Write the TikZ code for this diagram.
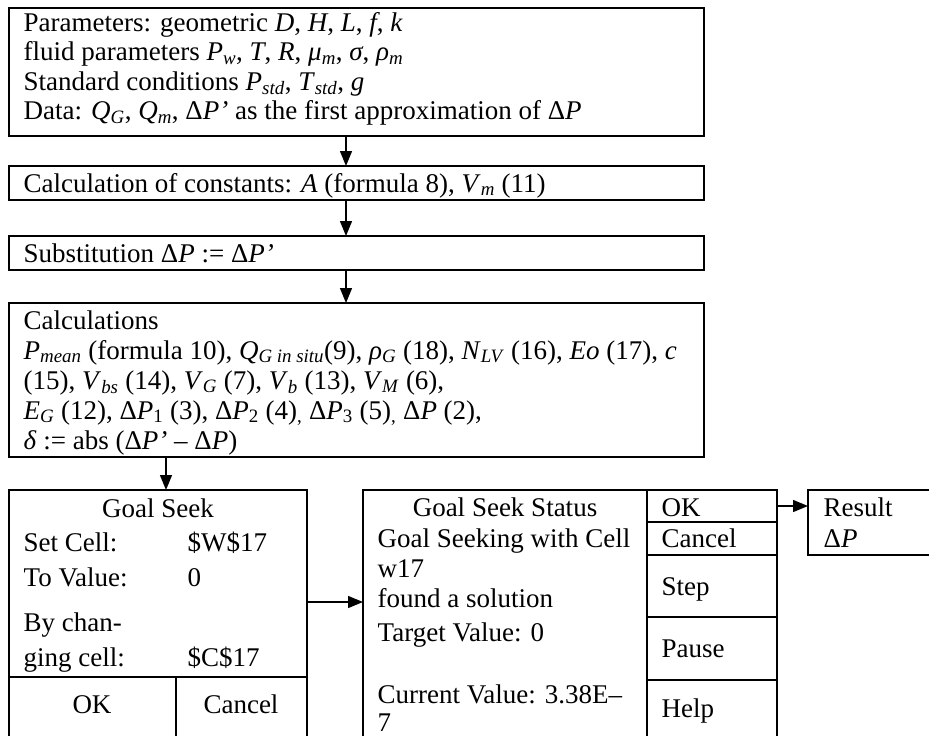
\documentclass[tikz,border=0pt]{standalone}
\usepackage{fontspec}
\setmainfont{Liberation Serif}
\usetikzlibrary{arrows.meta}
\newcommand\iv[2]{\textit{#1}\textsubscript{\textit{#2}}}
\newcommand\dP{Δ\textit{P}}
\newcommand\fs{\fontsize{27pt}{30pt}\selectfont}
\begin{document}
\begin{tikzpicture}[x=1pt,y=-1pt, line width=1.4pt,
  box/.style={draw, rectangle, inner sep=0pt, outer sep=0pt, anchor=north west},
  txt/.style={anchor=base west, inner sep=0pt, font=\fs},
  ctr/.style={anchor=base, inner sep=0pt, font=\fs},
  arr/.style={-{Triangle[length=15pt,width=12pt]}, line width=1.4pt}]
\useasboundingbox (0,0) rectangle (929,736);
% top chain boxes
\node[box, minimum width=695pt, minimum height=128pt] (b1) at (9,8) {};
\node[box, minimum width=695pt, minimum height=34pt] (b2) at (9,166) {};
\node[box, minimum width=695pt, minimum height=34pt] (b3) at (9,236) {};
\node[box, minimum width=695pt, minimum height=154pt] (b4) at (9,303) {};
\coordinate (ax) at (346,0);
\draw[arr] (b1.south -| ax) -- (b2.north -| ax);
\draw[arr] (b2.south -| ax) -- (b3.north -| ax);
\draw[arr] (b3.south -| ax) -- (b4.north -| ax);
% texts of the chain boxes
\node[txt] (t11) at (23,31) {Parameters: geometric \textit{D}, \textit{H}, \textit{L}, \textit{f}, \textit{k}};
\node[txt] (t12) at (23,60.5) {fluid parameters \iv{P}{w}, \textit{T}, \textit{R}, \iv{μ}{m}, \textit{σ}, \iv{ρ}{m}};
\node[txt] (t13) at (23,90) {Standard conditions \iv{P}{std}, \iv{T}{std}, \textit{g}};
\node[txt] (t14) at (23,119.5) {Data: \iv{Q}{G}, \iv{Q}{m}, Δ\textit{P’} as the first approximation of \dP};
\node[txt] (t21) at (23,192) {Calculation of constants: \textit{A} (formula 8), \iv{V}{m} (11)};
\node[txt] (t31) at (23,262) {Substitution \dP{} := Δ\textit{P’}};
\node[txt] (t41) at (23,329) {Calculations};
\node[txt] (t42) at (23,359) {\iv{P}{mean} (formula 10), \iv{Q}{G in situ}(9), \iv{ρ}{G} (18), \iv{N}{LV} (16), \textit{Eo} (17), \textit{c}};
\node[txt] (t43) at (23,389) {(15), \iv{V}{bs} (14), \iv{V}{G} (7), \iv{V}{b} (13), \iv{V}{M} (6),};
\node[txt] (t44) at (23,419) {\iv{E}{G} (12), \dP\textsubscript{1} (3), \dP\textsubscript{2} (4)\textsubscript{,} \dP\textsubscript{3} (5)\textsubscript{,} \dP{} (2),};
\node[txt] (t45) at (23,449) {\textit{δ} := abs (Δ\textit{P’} – \dP)};
% Goal Seek dialog
\node[box, minimum width=298pt, minimum height=250pt] (gs) at (9,490) {};
\coordinate (gsd) at (9,677);
\coordinate (gsv) at (176,0);
\coordinate (bx) at (166,0);
\draw (gsd) -- (gsd -| gs.east);
\draw (gsd -| gsv) -- (gs.south -| gsv);
\draw[arr] (b4.south -| bx) -- (gs.north -| bx);
\node[ctr] (g1) at (158,517) {Goal Seek};
\node[txt] (g2) at (23,551) {Set Cell:};
\node[txt] (g3) at (187,551) {\$W\$17};
\node[txt] (g4) at (23,586) {To Value:};
\node[txt] (g5) at (187,586) {0};
\node[txt] (g6) at (23,631) {By chan-};
\node[txt] (g7) at (23,666) {ging cell:};
\node[txt] (g8) at (187,666) {\$C\$17};
\node[ctr] (g9) at (92,713) {OK};
\node[ctr] (g10) at (241,713) {Cancel};
% Goal Seek Status dialog
\node[box, minimum width=284pt, minimum height=250pt] (st) at (363,490) {};
\coordinate (ay) at (0,602);
\draw[arr] (gs.east |- ay) -- (st.west |- ay);
\node[ctr] (s1) at (505,516) {Goal Seek Status};
\node[txt] (s2) at (377,547) {Goal Seeking with Cell};
\node[txt] (s3) at (377,577) {w17};
\node[txt] (s4) at (377,607) {found a solution};
\node[txt] (s5) at (377,641) {Target Value: 0};
\node[txt] (s6) at (377,703) {Current Value: 3.38E–};
\node[txt] (s7) at (377,731) {7};
% buttons column
\node[box, minimum width=130pt, minimum height=32pt] (ok) at (647,490) {};
\node[box, minimum width=130pt, minimum height=33pt] (cn) at (647,522) {};
\node[box, minimum width=130pt, minimum height=62pt] (sp) at (647,555) {};
\node[box, minimum width=130pt, minimum height=63pt] (pa) at (647,617) {};
\node[box, minimum width=130pt, minimum height=60pt] (hp) at (647,680) {};
\node[txt] (o1) at (661,516) {OK};
\node[txt] (o2) at (661,547) {Cancel};
\node[txt] (o3) at (661,595) {Step};
\node[txt] (o4) at (661,657) {Pause};
\node[txt] (o5) at (661,717) {Help};
% result
\node[box, minimum width=130pt, minimum height=65pt] (rs) at (808,490) {};
\draw[arr] (ok.east) -- (rs.west |- ok.east);
\node[txt] (r1) at (823,516) {Result};
\node[txt] (r2) at (823,547) {\dP};
\end{tikzpicture}
\end{document}
